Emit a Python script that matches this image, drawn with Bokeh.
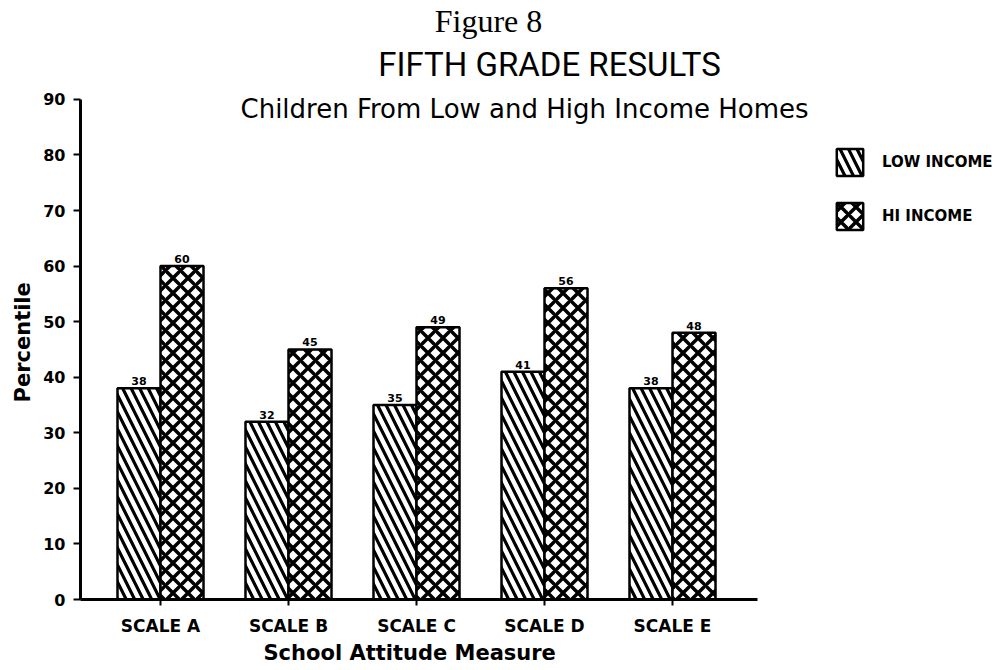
from bokeh.plotting import figure
from bokeh.models import (ColumnDataSource, FixedTicker, Label, Legend, LegendItem,
                          Range1d, LabelSet, Title)
from bokeh.core.properties import value
from bokeh.embed import file_html
from bokeh.resources import INLINE

# ---- data ----
categories = ["SCALE A", "SCALE B", "SCALE C", "SCALE D", "SCALE E"]
low_income = [38, 32, 35, 41, 38]
hi_income = [60, 45, 49, 56, 48]
y_ticks = [0, 10, 20, 30, 40, 50, 60, 70, 80, 90]
series_names = ["LOW INCOME", "HI INCOME"]

positions = list(range(1, len(categories) + 1))
bw = 0.336

src = ColumnDataSource(dict(
    x_low=[x - bw / 2 for x in positions],
    x_hi=[x + bw / 2 for x in positions],
    low=low_income,
    hi=hi_income,
    low_txt=[str(v) for v in low_income],
    hi_txt=[str(v) for v in hi_income],
))

# frame spans from x=80 to the right edge and from the top edge to y=599;
# the axes are bounded so they stop where the reference's axes stop
x_lo, x_hi_axis = 0.375, 5.664
p = figure(width=1002, height=670,
           x_range=Range1d(x_lo, 7.578), y_range=Range1d(0, 107.8),
           output_backend="svg", toolbar_location=None,
           min_border_left=80, min_border_right=0,
           min_border_top=0, min_border_bottom=71)

p.outline_line_color = None
p.xgrid.visible = False
p.ygrid.visible = False
p.background_fill_color = "white"
p.border_fill_color = "white"

r_low = p.vbar(x="x_low", top="low", width=bw, bottom=0, source=src,
               fill_color="white", line_color="black", line_width=2.5,
               hatch_pattern="left_diagonal_line", hatch_color="black",
               hatch_scale=17, hatch_weight=3.2)
r_hi = p.vbar(x="x_hi", top="hi", width=bw, bottom=0, source=src,
              fill_color="white", line_color="black", line_width=2.5,
              hatch_pattern="diagonal_cross", hatch_color="black",
              hatch_scale=15, hatch_weight=3.5)

lbl_font = "DejaVu Sans"
for xcol, ycol, tcol in (("x_low", "low", "low_txt"), ("x_hi", "hi", "hi_txt")):
    p.add_layout(LabelSet(x=xcol, y=ycol, text=tcol, source=src,
                          y_offset=3, text_align="center", text_baseline="bottom",
                          text_font=value(lbl_font), text_font_size="11px",
                          text_font_style="bold", text_color="black"))

# axes
xa = p.xaxis[0]
xa.bounds = (x_lo, x_hi_axis)
xa.ticker = FixedTicker(ticks=positions)
xa.major_label_overrides = {pos: c for pos, c in zip(positions, categories)}
xa.minor_tick_line_color = None
xa.axis_line_width = 3
xa.major_tick_line_width = 2
xa.major_tick_in = 0
xa.major_tick_out = 6
xa.major_label_standoff = 10
xa.major_label_text_font = lbl_font
xa.major_label_text_font_style = "bold"
xa.major_label_text_font_size = "17px"
xa.major_label_text_color = "black"

ya = p.yaxis[0]
ya.bounds = (0, 90)
ya.ticker = FixedTicker(ticks=y_ticks)
ya.minor_tick_line_color = None
ya.axis_line_width = 3
ya.major_tick_line_width = 2
ya.major_tick_in = 0
ya.major_tick_out = 7
ya.major_label_standoff = 8
ya.major_label_text_font = lbl_font
ya.major_label_text_font_style = "bold"
ya.major_label_text_font_size = "16px"
ya.major_label_text_color = "black"

# axis titles as side titles so they can sit off the frame's centre
p.add_layout(Title(text="School Attitude Measure", text_font=lbl_font,
                   text_font_size="21px", text_font_style="bold",
                   text_color="black", align="left", offset=183,
                   vertical_align="top", standoff=5), "below")
p.add_layout(Title(text="Percentile", text_font=lbl_font,
                   text_font_size="21px", text_font_style="bold",
                   text_color="black", align="left", offset=197,
                   vertical_align="bottom", standoff=12), "left")

# titles (screen units, measured from the frame's bottom-left corner)
p.add_layout(Label(x=408, y=579, x_units="screen", y_units="screen",
                   text="Figure 8", text_font="Liberation Serif",
                   text_font_size="32px", text_color="black",
                   text_align="center", text_baseline="middle"))
p.add_layout(Label(x=469, y=535, x_units="screen", y_units="screen",
                   text="FIFTH GRADE RESULTS", text_font="Roboto",
                   text_font_size="33px", text_color="black",
                   text_align="center", text_baseline="middle"))
p.add_layout(Label(x=160, y=491, x_units="screen", y_units="screen",
                   text="Children From Low and High Income Homes",
                   text_font=lbl_font, text_font_size="26px",
                   text_color="black",
                   text_align="left", text_baseline="middle"))

legend = Legend(items=[LegendItem(label=series_names[0], renderers=[r_low]),
                       LegendItem(label=series_names[1], renderers=[r_hi])],
                location=(753, 366), orientation="vertical",
                border_line_color=None, background_fill_alpha=0,
                padding=0, margin=0, spacing=20,
                glyph_width=33, glyph_height=34, label_standoff=16,
                label_text_font=lbl_font, label_text_font_style="bold",
                label_text_font_size="15px", label_text_color="black")
p.add_layout(legend)

open("out.html", "w").write(file_html(p, INLINE))
